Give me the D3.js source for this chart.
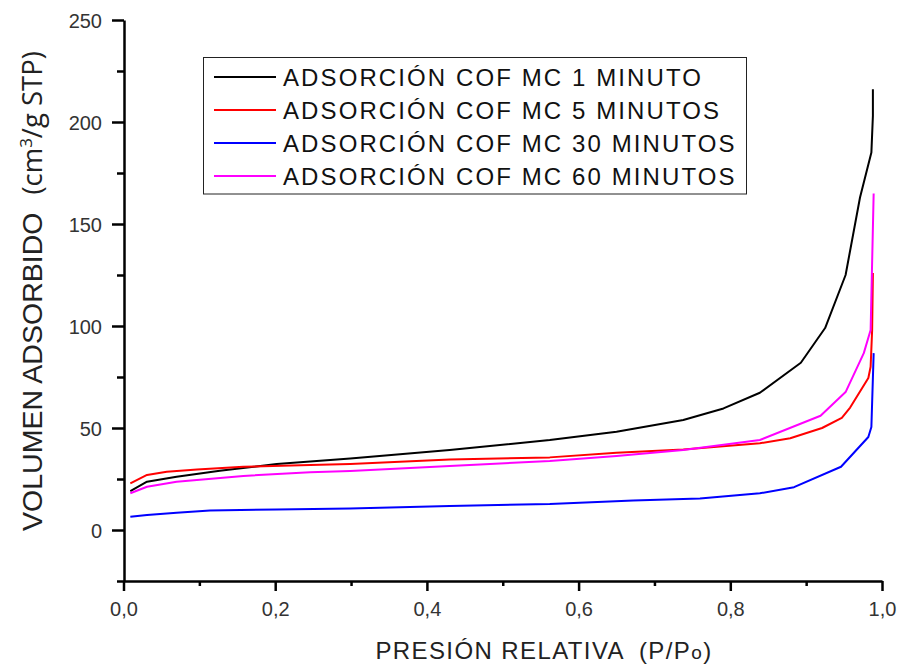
<!DOCTYPE html>
<html>
<head>
<meta charset="utf-8">
<script src="https://cdn.jsdelivr.net/npm/d3@7"></script>
<style>
  html, body { margin: 0; padding: 0; background: #fff; }
  svg { display: block; }
</style>
</head>
<body>
<svg id="chart" width="898" height="664"></svg>
<script>
// Isotherm data: relative pressure (P/Po) and adsorbed volume (cm³/g STP)
const seriesNames = [
  "ADSORCIÓN COF MC 1 MINUTO",
  "ADSORCIÓN COF MC 5 MINUTOS",
  "ADSORCIÓN COF MC 30 MINUTOS",
  "ADSORCIÓN COF MC 60 MINUTOS"
];
const seriesColors = ["#000000", "#ff0000", "#0000ff", "#ff00ff"];

const p1 = [0.009, 0.031, 0.070, 0.127, 0.202, 0.299, 0.430, 0.562, 0.650, 0.738, 0.791, 0.839, 0.893, 0.925, 0.952, 0.971, 0.986, 0.988, 0.988];
const v1 = [19.1, 23.7, 26.1, 29.1, 32.3, 35.1, 39.2, 44.1, 48.2, 53.9, 59.6, 67.3, 82, 99, 125, 163, 185, 203, 216];

const p5 = [0.009, 0.031, 0.057, 0.097, 0.158, 0.246, 0.299, 0.430, 0.562, 0.650, 0.738, 0.839, 0.879, 0.921, 0.947, 0.958, 0.982, 0.985, 0.987, 0.988];
const v5 = [22.9, 27, 28.6, 29.7, 31, 31.9, 32.4, 34.6, 35.6, 37.9, 39.5, 42.5, 45, 50, 55, 60, 74.5, 80, 98, 126];

const p30 = [0.009, 0.031, 0.070, 0.114, 0.202, 0.299, 0.430, 0.562, 0.672, 0.760, 0.839, 0.884, 0.946, 0.982, 0.986, 0.989];
const v30 = [6.5, 7.4, 8.5, 9.5, 10.1, 10.6, 11.8, 12.7, 14.4, 15.5, 18, 21, 31, 45.6, 50.5, 86.7];

const p60 = [0.009, 0.031, 0.070, 0.158, 0.246, 0.299, 0.430, 0.562, 0.650, 0.738, 0.839, 0.919, 0.952, 0.976, 0.985, 0.989];
const v60 = [18, 21.2, 23.7, 26.5, 28.3, 28.9, 31.4, 33.8, 36.3, 39.2, 44.1, 56, 67.6, 86.7, 98, 165];

const xTicks = [0, 0.1, 0.2, 0.3, 0.4, 0.5, 0.6, 0.7, 0.8, 0.9, 1.0];
const yTicks = [-25, 0, 25, 50, 75, 100, 125, 150, 175, 200, 225, 250];

const series = [
  { name: seriesNames[0], color: seriesColors[0], p: p1, v: v1 },
  { name: seriesNames[1], color: seriesColors[1], p: p5, v: v5 },
  { name: seriesNames[2], color: seriesColors[2], p: p30, v: v30 },
  { name: seriesNames[3], color: seriesColors[3], p: p60, v: v60 }
];

const svg = d3.select("#chart");
const x = d3.scaleLinear().domain([0, 1]).range([123.5, 882]);
const y = d3.scaleLinear().domain([-25, 250]).range([581, 20]);

const fmtX = v => d3.format(".1f")(v).replace(".", ",");
const isMajorX = v => Math.abs(Math.round(v * 10) % 2) === 0;
const isMajorY = v => v % 50 === 0;

// X axis
const gx = svg.append("g")
  .attr("transform", `translate(0,${y(-25)})`)
  .call(d3.axisBottom(x).tickValues(xTicks).tickSizeOuter(0).tickFormat(""));
gx.select(".domain").attr("stroke", "#000").attr("stroke-width", 2.5);
gx.selectAll(".tick line")
  .attr("stroke", "#000").attr("stroke-width", 2.5)
  .attr("y2", d => isMajorX(d) ? 10 : 5);
gx.selectAll(".tick").filter(d => isMajorX(d))
  .append("text")
  .attr("y", 35)
  .attr("fill", "#333")
  .attr("text-anchor", "middle")
  .style("font-family", "'Liberation Sans', Arial, sans-serif")
  .style("font-size", "20px")
  .text(d => fmtX(d));

// Y axis
const gy = svg.append("g")
  .attr("transform", `translate(${x(0) + 0.5},0)`)
  .call(d3.axisLeft(y).tickValues(yTicks).tickSizeOuter(0).tickFormat(""));
gy.select(".domain").attr("stroke", "#000").attr("stroke-width", 2.5);
gy.selectAll(".tick line")
  .attr("stroke", "#000").attr("stroke-width", 2.5)
  .attr("x2", d => isMajorY(d) ? -12 : -7);
gy.selectAll(".tick").filter(d => isMajorY(d))
  .append("text")
  .attr("x", -22)
  .attr("dy", "0.36em")
  .attr("fill", "#333")
  .attr("text-anchor", "end")
  .style("font-family", "'Liberation Sans', Arial, sans-serif")
  .style("font-size", "20px")
  .text(d => d);

// Curves
const line = d3.line().x(d => x(d[0])).y(d => y(d[1]));
svg.append("g").selectAll("path")
  .data(series)
  .join("path")
  .attr("fill", "none")
  .attr("stroke", d => d.color)
  .attr("stroke-width", 2)
  .attr("stroke-linejoin", "round")
  .attr("d", d => line(d.p.map((pv, i) => [pv, d.v[i]])));

// Legend
const legend = svg.append("g");
legend.append("rect")
  .attr("x", 203.5).attr("y", 57.5)
  .attr("width", 543).attr("height", 136.5)
  .attr("fill", "#fff").attr("stroke", "#222").attr("stroke-width", 1);
const rowY = [77, 110, 143, 176];
const rows = legend.selectAll("g.row").data(series).join("g").attr("class", "row")
  .attr("transform", (d, i) => `translate(0,${rowY[i]})`);
rows.append("line")
  .attr("x1", 214).attr("x2", 276)
  .attr("stroke", d => d.color).attr("stroke-width", 2.2);
rows.append("text")
  .attr("x", 283).attr("y", 9)
  .attr("fill", "#111")
  .style("font-family", "'Liberation Sans', Arial, sans-serif")
  .style("font-size", "24px")
  .style("letter-spacing", "2.1px")
  .text(d => d.name);

// X axis title
const xt = svg.append("text")
  .attr("x", 544).attr("y", 659)
  .attr("text-anchor", "middle")
  .attr("fill", "#222")
  .style("font-family", "'Liberation Sans', Arial, sans-serif")
  .style("font-size", "24px")
  .style("letter-spacing", "1.4px");
xt.append("tspan").text("PRESIÓN RELATIVA");
xt.append("tspan").attr("dx", 14).text("(P/P");
xt.append("tspan").style("font-size", "19px").text("o");
xt.append("tspan").text(")");

// Y axis title
const yt = svg.append("text")
  .attr("transform", "translate(42,291) rotate(-90)")
  .attr("text-anchor", "middle")
  .attr("fill", "#222")
  .style("font-family", "'Liberation Sans', Arial, sans-serif")
  .style("font-size", "28.5px");
yt.append("tspan").text("VOLUMEN ADSORBIDO");
yt.append("tspan").attr("dx", 18).style("font-family", "'Open Sans', sans-serif").style("font-size", "27.5px").text("(cm");
yt.append("tspan").attr("dy", -10).style("font-family", "'Open Sans', sans-serif").style("font-size", "17px").text("3");
yt.append("tspan").attr("dy", 10).style("font-family", "'Open Sans', sans-serif").style("font-size", "27.5px").text("/g STP)");
</script>
</body>
</html>
